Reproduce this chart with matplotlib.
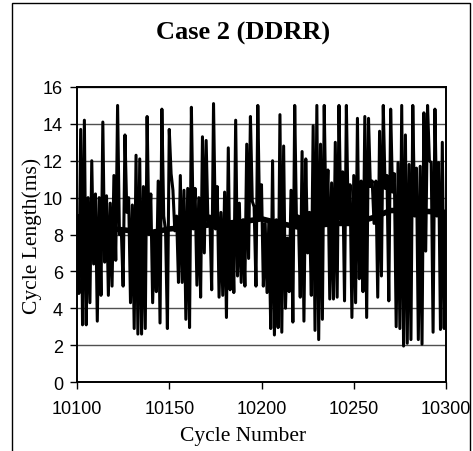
import matplotlib
matplotlib.use("Agg")
import matplotlib.pyplot as plt
from matplotlib.patches import Rectangle

# Cycle-by-cycle length (ms), cycles 10100..10300
cycles = list(range(10100, 10301))
cycle_length = [
    9.0, 4.8, 13.7, 3.1, 14.2, 3.1, 10.0, 4.3, 12.0, 6.4,
    10.2, 3.3, 10.0, 4.7, 14.1, 6.5, 10.1, 4.7, 9.7, 5.2,
    11.2, 6.6, 15.0, 8.0, 8.3, 5.2, 13.4, 9.2, 10.0, 4.3,
    9.6, 2.9, 12.3, 2.6, 12.1, 2.6, 10.6, 2.9, 14.4, 8.0,
    10.2, 4.3, 8.2, 4.9, 10.9, 3.2, 14.8, 9.0, 8.2, 2.9,
    13.7, 11.3, 10.4, 8.2, 9.0, 5.4, 11.2, 5.4, 10.4, 3.4,
    10.5, 2.95, 14.9, 8.3, 10.5, 5.25, 10.0, 4.6, 13.3, 7.0,
    13.1, 8.5, 9.0, 5.0, 15.1, 8.3, 10.6, 4.6, 9.2, 4.7,
    10.3, 3.5, 12.7, 5.0, 8.6, 4.85, 14.2, 5.75, 9.7, 5.4,
    8.8, 5.2, 12.9, 6.7, 14.4, 9.8, 9.5, 5.2, 15.0, 8.8,
    10.7, 5.2, 8.6, 4.85, 8.8, 2.9, 12.0, 2.55, 8.8, 2.95,
    14.5, 2.7, 12.8, 4.0, 7.8, 4.9, 10.4, 3.25, 15.0, 8.4,
    9.0, 4.6, 12.5, 3.3, 12.1, 7.0, 9.2, 4.7, 13.9, 2.8,
    15.0, 2.3, 12.9, 3.4, 15.0, 8.5, 11.5, 4.5, 10.8, 4.5,
    13.0, 4.6, 15.0, 8.8, 11.4, 4.4, 15.0, 8.7, 10.7, 3.5,
    11.2, 4.3, 14.3, 5.6, 10.9, 4.9, 14.4, 3.5, 14.3, 10.6,
    10.9, 8.6, 10.9, 4.6, 13.6, 5.75, 15.0, 10.5, 11.2, 4.4,
    14.8, 10.3, 11.3, 3.0, 11.9, 2.9, 15.0, 1.95, 13.4, 2.1,
    11.8, 2.3, 15.0, 9.0, 11.6, 2.3, 11.7, 2.05, 14.6, 7.1,
    15.0, 12.0, 11.9, 2.7, 14.8, 9.0, 11.9, 2.85, 13.0, 2.9,
    9.2,
]

# Running average of the cycle length, every 10 cycles
trend_cycles = list(range(10100, 10301, 10))
trend_length = [8.4, 8.3, 8.3, 8.2, 8.1, 8.3, 8.4, 8.5, 8.6, 8.7,
                8.85, 8.6, 8.4, 8.5, 8.6, 8.6, 8.9, 9.3, 9.3, 9.25, 9.2]

x_ticks = [10100, 10150, 10200, 10250, 10300]
y_ticks = [0, 2, 4, 6, 8, 10, 12, 14, 16]

W, H = 473, 452
fig = plt.figure(figsize=(W / 100, H / 100), dpi=100)
ax = fig.add_axes([77 / W, 1 - 383 / H, (446 - 77) / W, (383 - 88) / H])

ax.plot(cycles, cycle_length, color="black", lw=2.2, zorder=3)
ax.plot(trend_cycles, trend_length, color="black", lw=4.0, zorder=4)

ax.set_xlim(10100, 10300)
ax.set_ylim(0, 16)
ax.set_xticks(x_ticks)
ax.set_yticks(y_ticks)
ax.yaxis.grid(True, color="#505050", lw=1.0)
ax.set_axisbelow(True)

for s in ax.spines.values():
    s.set_linewidth(1.4)
    s.set_color("black")
ax.tick_params(direction="out", length=5, width=1.0, colors="black",
               labelsize=13)
ax.tick_params(axis="x", pad=8)
ax.tick_params(axis="y", pad=5)
for lab in ax.get_xticklabels() + ax.get_yticklabels():
    lab.set_family("Liberation Sans")

ax.set_xlabel("Cycle Number", family="Liberation Serif", fontsize=15.5)
ax.set_ylabel("Cycle Length(ms)", family="Liberation Serif", fontsize=15.5)
ax.xaxis.set_label_coords((243 - 77) / (446 - 77), (383 - 437) / (383 - 88))
ax.yaxis.set_label_coords((32 - 77) / (446 - 77), 0.5)
ax.xaxis.label.set_va("center")
ax.yaxis.label.set_va("center")

fig.text(243 / W, 1 - 33 / H, "Case 2 (DDRR)", family="Liberation Serif",
         fontweight="bold", fontsize=19, ha="center", va="center")

fig.patches.append(Rectangle((12 / W, -0.01), (470 - 12) / W, 1 - 4 / H + 0.01,
                             transform=fig.transFigure, fill=False,
                             edgecolor="black", lw=1.0))

fig.savefig("out.png", dpi=100)
